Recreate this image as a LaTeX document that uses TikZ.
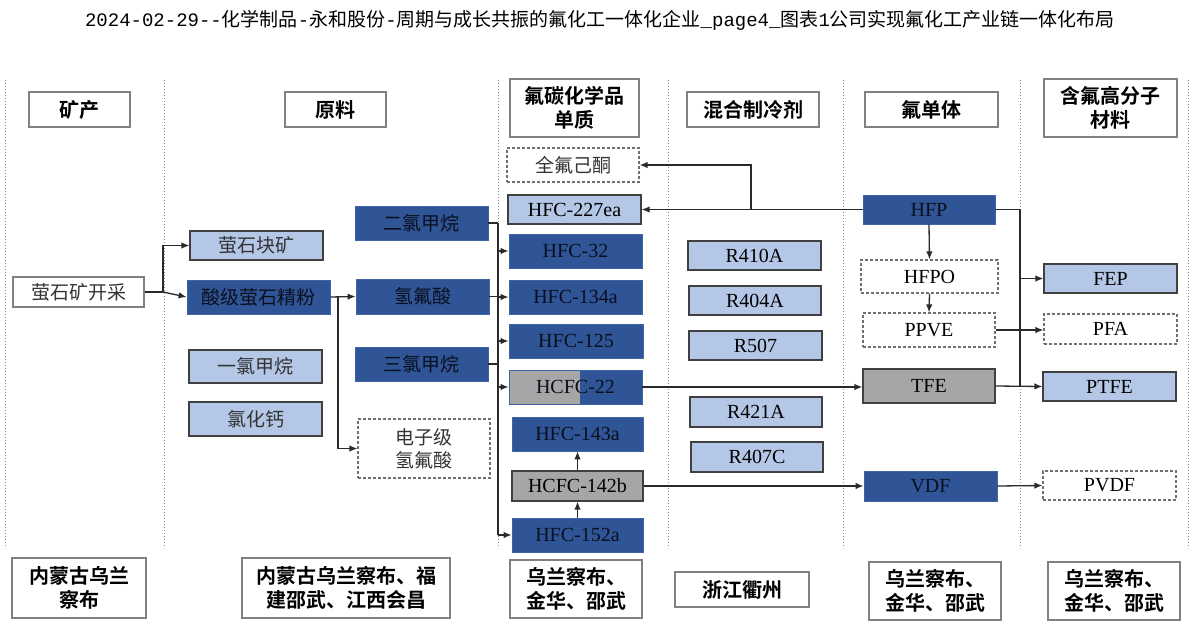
\documentclass[tikz,border=0pt]{standalone}
\usepackage{fontspec}
\usetikzlibrary{arrows.meta}
\setmainfont{Liberation Serif}
\newfontfamily\cjk{Noto Sans CJK SC}[BoldFont={Noto Sans CJK SC Bold}]
\newfontfamily\mono{Liberation Mono}

\definecolor{dkblue}{HTML}{2F5597}
\definecolor{dkedge}{HTML}{3F64A8}
\definecolor{ltblue}{HTML}{B4C7E7}
\definecolor{grayfill}{HTML}{A6A6A6}
\definecolor{edge}{HTML}{404040}
\definecolor{hdrgray}{HTML}{808080}
\definecolor{dashgray}{HTML}{707070}
\definecolor{dktext}{HTML}{0A0F1E}
\definecolor{dashtext}{HTML}{333333}
\definecolor{linec}{HTML}{2A2A2A}
\definecolor{sepgray}{HTML}{8C8C8C}

% box from corner (x1,y1) to corner (x2,y2), in pixel units
\newcommand\placebox[7]{%
  \pgfmathsetmacro\bw{#5-#3}\pgfmathsetmacro\bh{#6-#4}%
  \pgfmathsetmacro\bcx{(#3+#5)/2}\pgfmathsetmacro\bcy{(#4+#6)/2}%
  \node[#1,minimum width=\bw pt,minimum height=\bh pt] (#2) at (\bcx,\bcy) {#7};}

\tikzset{
  hdr/.style={draw=hdrgray, line width=1.6pt, fill=white, inner sep=0pt,
    align=center, text=black, font=\cjk\bfseries\fontsize{20}{24}\selectfont},
  dk/.style={fill=dkblue, draw=dkedge, line width=0.8pt, inner sep=0pt},
  lt/.style={fill=ltblue, draw=edge, line width=1.2pt, inner sep=0pt},
  gr/.style={fill=grayfill, draw=edge, line width=1.2pt, inner sep=0pt},
  dsh/.style={draw=dashgray, dash pattern=on 3pt off 2pt, line width=1.2pt,
    fill=white, inner sep=0pt, align=center},
  wt/.style={draw=hdrgray, line width=1.4pt, fill=white, inner sep=0pt},
  zh/.style={font=\cjk\fontsize{19}{23}\selectfont, text=dashtext},
  en/.style={font=\fontsize{20}{24}\selectfont, text=black},
  zhd/.style={font=\cjk\fontsize{19}{23}\selectfont, text=dktext},
  end/.style={font=\fontsize{20}{24}\selectfont, text=dktext},
  ln/.style={draw=linec, line width=1.3pt},
  arr/.style={ln, -{Latex[length=8pt,width=6.5pt]}},
  sep/.style={draw=sepgray, line width=1pt, dash pattern=on 1pt off 2pt},
}

\begin{document}
\begin{tikzpicture}[x=1pt,y=-1pt]
\fill[white] (0,0) rectangle (1197,637);
\useasboundingbox (0,0) rectangle (1197,637);

% title
\node[font=\cjk\fontsize{19}{22}\selectfont, anchor=center] (title) at (600,20)
  {{\mono 2024-02-29--}化学制品{\mono -}永和股份{\mono -}周期与成长共振的氟化工一体化企业{\mono \_page4\_}图表{\mono 1}公司实现氟化工产业链一体化布局};

% column separators
\foreach \sx in {5,164,498,668,843,1020,1188}
  \draw[sep] (\sx,80) -- (\sx,548);

% column headers
\placebox{hdr}{h1}{29}{92}{130}{127}{矿产}
\placebox{hdr}{h2}{285}{92}{386}{127}{原料}
\placebox{hdr}{h3}{510}{79}{639}{137}{氟碳化学品\\单质}
\placebox{hdr}{h4}{687}{92}{819}{127}{混合制冷剂}
\placebox{hdr}{h5}{865}{92}{998}{127}{氟单体}
\placebox{hdr}{h6}{1044}{79}{1177}{137}{含氟高分子\\材料}

% mining
\placebox{wt,zh}{mine}{13}{277}{144}{307}{萤石矿开采}

% raw materials
\placebox{lt,zh}{lump}{190}{231}{323}{260}{萤石块矿}
\placebox{dk,zhd}{acid}{187}{280}{330}{314}{酸级萤石精粉}
\placebox{lt,zh}{mcm}{189}{350}{322}{383}{一氯甲烷}
\placebox{lt,zh}{cacl}{189}{402}{322}{436}{氯化钙}
\placebox{dk,zhd}{dcm}{355}{206}{488}{240}{二氯甲烷}
\placebox{dk,zhd}{hf}{356}{279}{489}{314}{氢氟酸}
\placebox{dk,zhd}{tcm}{355}{347}{488}{381}{三氯甲烷}
\placebox{dsh,zh}{ehf}{358}{419}{490}{478}{电子级\\氢氟酸}

% fluorocarbon chemicals
\placebox{dsh,zh}{pfk}{507}{148}{639}{182}{全氟己酮}
\placebox{lt,en}{f227}{508}{195}{641}{224}{HFC-227ea}
\placebox{dk,end}{f32}{509}{234}{642}{268}{HFC-32}
\placebox{dk,end}{f134}{509}{280}{642}{314}{HFC-134a}
\placebox{dk,end}{f125}{509}{324}{643}{358}{HFC-125}
\placebox{dk,end,
  path picture={\fill[grayfill] (path picture bounding box.south west)
    rectangle ([xshift=71pt]path picture bounding box.north west);}}
  {f22}{509}{370}{642}{404}{HCFC-22}
\placebox{dk,end}{f143}{512}{417}{643}{451}{HFC-143a}
\placebox{gr,en}{f142}{512}{471}{643}{501}{HCFC-142b}
\placebox{dk,end}{f152}{512}{518}{643}{552}{HFC-152a}

% refrigerant blends
\placebox{lt,en}{r410}{688}{241}{821}{270}{R410A}
\placebox{lt,en}{r404}{689}{286}{821}{315}{R404A}
\placebox{lt,en}{r507}{689}{331}{822}{360}{R507}
\placebox{lt,en}{r421}{690}{397}{822}{427}{R421A}
\placebox{lt,en}{r407}{691}{442}{823}{472}{R407C}

% fluoromonomers
\placebox{dk,end}{hfp}{863}{195}{995}{224}{HFP}
\placebox{dsh,en}{hfpo}{861}{260}{998}{293}{HFPO}
\placebox{dsh,en}{ppve}{863}{313}{995}{347}{PPVE}
\placebox{gr,en}{tfe}{863}{369}{995}{403}{TFE}
\placebox{dk,end}{vdf}{864}{471}{997}{501}{VDF}

% fluoropolymers
\placebox{lt,en}{fep}{1044}{264}{1177}{293}{FEP}
\placebox{dsh,en}{pfa}{1044}{314}{1177}{344}{PFA}
\placebox{lt,en}{ptfe}{1043}{372}{1176}{401}{PTFE}
\placebox{dsh,en}{pvdf}{1043}{471}{1176}{500}{PVDF}

% locations
\placebox{hdr}{l1}{12}{558}{146}{618}{内蒙古乌兰\\察布}
\placebox{hdr}{l2}{242}{558}{450}{618}{内蒙古乌兰察布、福\\建邵武、江西会昌}
\placebox{hdr}{l3}{510}{560}{642}{618}{乌兰察布、\\金华、邵武}
\placebox{hdr}{l4}{675}{572}{809}{607}{浙江衢州}
\placebox{hdr}{l5}{869}{562}{1001}{620}{乌兰察布、\\金华、邵武}
\placebox{hdr}{l6}{1048}{562}{1180}{620}{乌兰察布、\\金华、邵武}

% junction points
\coordinate (j0) at (163,292);
\coordinate (j1) at (338,297);
\coordinate (busl) at (498,0);
\coordinate (j2) at (751,209.5);
\coordinate (busr) at (1020,0);

% fluorite routes
\draw[ln] (mine.east) -- (j0);
\draw[arr] (j0) |- (lump.west);
\draw[arr] (j0) -- (acid.west);
\draw[arr] (acid.east) -- (hf.west);
\draw[arr] (j1) |- (ehf.west);

% raw materials into fluorocarbons
\draw[ln] (dcm.east) -- (busl |- dcm.east);
\draw[ln] (hf.east) -- (busl |- hf.east);
\draw[ln] (tcm.east) -- (busl |- tcm.east);
\draw[ln] (busl |- dcm.east) -- (busl |- f152.west);
\foreach \t in {f32,f134,f125,f22,f152}
  \draw[arr] (busl |- \t.west) -- (\t.west);
\draw[arr] (f152.north) -- (f142.south);
\draw[arr] (f142.north) -- (f143.south);

% monomer routes
\draw[arr] (hfp.west) -- (f227.east);
\draw[arr] (j2) |- (pfk.east);
\draw[arr] (f22.east) -- (f22.east -| tfe.west);
\draw[arr] (f142.east) -- (vdf.west);
\draw[arr] (hfp.south) -- (hfpo.north);
\draw[arr] (hfpo.south) -- (ppve.north);

% polymer routes
\draw[ln] (hfp.east) -| (busr |- tfe.east);
\draw[arr] (busr |- fep.west) -- (fep.west);
\draw[arr] (tfe.east) -- (ptfe.west);
\draw[arr] (ppve.east) -- (ppve.east -| pfa.west);
\draw[arr] (vdf.east) -- (pvdf.west);
\end{tikzpicture}
\end{document}
